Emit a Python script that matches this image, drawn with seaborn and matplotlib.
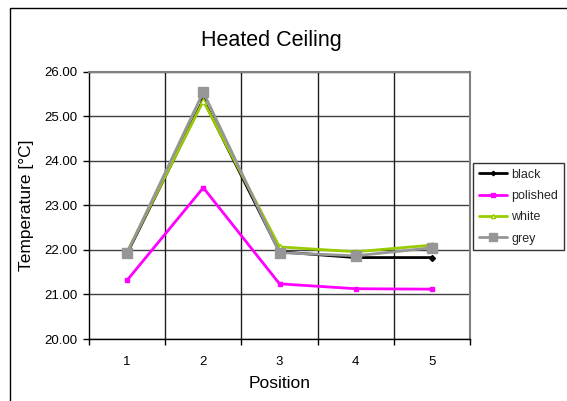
import matplotlib
matplotlib.use("Agg")
import matplotlib.pyplot as plt
import matplotlib.patches as mpatches
import seaborn as sns
import pandas as pd

positions = [1, 2, 3, 4, 5]
black = [21.92, 25.38, 21.96, 21.83, 21.83]
polished = [21.32, 23.40, 21.24, 21.13, 21.12]
white = [21.96, 25.35, 22.07, 21.96, 22.11]
grey = [21.93, 25.55, 21.94, 21.87, 22.05]
y_ticks = [20.0, 21.0, 22.0, 23.0, 24.0, 25.0, 26.0]
title = "Heated Ceiling"
xlabel = "Position"
ylabel = "Temperature [°C]"

sns.set_theme(style="white")
plt.rcParams["font.family"] = ["Liberation Sans", "DejaVu Sans"]

W, H = 567, 401
fig = plt.figure(figsize=(W / 100, H / 100), dpi=100)
ax = fig.add_axes([89 / W, 1 - 339 / H, (470 - 89) / W, (339 - 72) / H])

series = [
    ("black", black, "#000000", "D", 3, "#000000"),
    ("polished", polished, "#FF00FF", "s", 3.5, "#FF00FF"),
    ("white", white, "#99CC00", "^", 4, "white"),
    ("grey", grey, "#969696", "s", 7, "#969696"),
]
for name, vals, col, mk, ms, fc in series:
    df = pd.DataFrame({"Position": positions, "Temp": vals})
    sns.lineplot(data=df, x="Position", y="Temp", ax=ax, color=col, marker=mk,
                 markersize=ms, markerfacecolor=fc, markeredgecolor=col,
                 markeredgewidth=1, linewidth=2, label=name)

ax.set_xlim(0.5, 5.5)
ax.set_ylim(20, 26)
ax.set_yticks(y_ticks)
ax.set_yticklabels([f"{v:.2f}" for v in y_ticks])
ax.set_xticks(positions)
ax.set_xticks([0.5, 1.5, 2.5, 3.5, 4.5, 5.5], minor=True)
ax.tick_params(axis="x", which="major", length=0, pad=12, labelsize=9.5, colors="#000000")
ax.tick_params(axis="x", which="minor", length=4, width=1, direction="out", bottom=True, color="#000000")
ax.tick_params(axis="y", which="major", length=4, width=1, direction="out", left=True,
               pad=4, labelsize=9.5, colors="#000000")
ax.grid(False)
for v in y_ticks:
    ax.axhline(v, color="#404040", linewidth=1, zorder=0.5)
for v in [1.5, 2.5, 3.5, 4.5]:
    ax.axvline(v, color="#202020", linewidth=1, zorder=0.5)

ax.set_xlabel(xlabel, fontsize=12.5, labelpad=6, color="#000000")
ax.set_ylabel(ylabel, fontsize=12.5, labelpad=8, color="#000000")

for side in ["left", "bottom"]:
    ax.spines[side].set_color("#000000")
    ax.spines[side].set_linewidth(1)
for side in ["top", "right"]:
    ax.spines[side].set_color("#808080")
    ax.spines[side].set_linewidth(1.5)

ax.legend_.remove()
handles, labels = ax.get_legend_handles_labels()
leg = fig.legend(handles, labels, loc="upper left",
                 bbox_to_anchor=(473 / W, 1 - 163 / H), bbox_transform=fig.transFigure,
                 fontsize=9, frameon=True, fancybox=False, edgecolor="#000000",
                 handlelength=2.3, handletextpad=0.3, borderpad=0.45, labelspacing=0.75,
                 borderaxespad=0, markerscale=0.75)
leg.get_frame().set_linewidth(1)

fig.text(271 / W, 1 - 46 / H, title, ha="center", va="baseline", fontsize=15.5, color="#000000")

rect = mpatches.Rectangle((10 / W, -0.2), 1.5, (1 - 8 / H) + 0.2, transform=fig.transFigure,
                          fill=False, edgecolor="#000000", linewidth=1)
fig.patches.append(rect)

fig.savefig("out.png", dpi=100)
